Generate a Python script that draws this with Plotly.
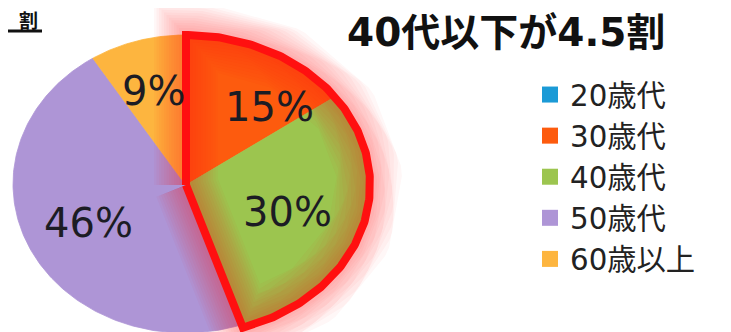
import numpy as np
import plotly.graph_objects as go

# ---------------- data ----------------
categories = ["20歳代", "30歳代", "40歳代", "50歳代", "60歳以上"]
shares = [0, 15, 30, 46, 9]            # percent of respondents
highlighted = ["30歳代", "40歳代"]       # slices pulled out and outlined
title_text = "40代以下が4.5割"
corner_text = "割"

# ---------------- style ----------------
colors = {
    "20歳代": "#1b9ad6",
    "30歳代": "#fd5b0e",
    "40歳代": "#9cc54f",
    "50歳代": "#ae95d6",
    "60歳以上": "#fdb53f",
}
W, H = 731, 332            # browser window
OFF = 8                    # default page (body) margin of the html page
FW, FH = W - OFF, H - OFF  # figure size so the page fits the window
CX, CY, RX, RY = 185, 184, 172, 149           # pie ellipse (window pixel units)
HL_DX, HL_DY, HL_SX, HL_SY = 1, 1, 1.07, 1.007  # enlarged, highlighted group
LABEL_R = {"30歳代": 0.69, "40歳代": 0.58, "50歳代": 0.62, "60歳以上": 0.65}
LABEL_TURN = {"30歳代": 14}
FONT = "DejaVu Sans, Noto Sans CJK JP, sans-serif"
TEXT_COLOR = "#1c1c24"


def px(sx):   # window x -> paper x
    return (sx - OFF) / FW


def py(sy):   # window y -> paper y
    return 1 - (sy - OFF) / FH


fig = go.Figure()


def geom(cat):
    if cat in highlighted:
        return CX + HL_DX, CY + HL_DY, RX * HL_SX, RY * HL_SY
    return CX, CY, RX, RY


def arc(cx, cy, rx, ry, a0, a1, n=160):
    t = np.radians(np.linspace(a0, a1, n))
    return cx + rx * np.sin(t), cy - ry * np.cos(t)


total = float(sum(shares))
starts = {}
acc = 0.0
for cat, v in zip(categories, shares):
    starts[cat] = (acc / total * 360.0, (acc + v) / total * 360.0)
    acc += v

# wedges: ordinary slices first, highlighted on top
order = [c for c in categories if c not in highlighted] + [c for c in categories if c in highlighted]
for cat in order:
    v = shares[categories.index(cat)]
    if v <= 0:
        continue
    a0, a1 = starts[cat]
    cx, cy, rx, ry = geom(cat)
    xs, ys = arc(cx, cy, rx, ry, a0, a1)
    fig.add_trace(go.Scatter(
        x=np.concatenate([[cx], xs, [cx]]), y=np.concatenate([[cy], ys, [cy]]),
        mode="lines", fill="toself", fillcolor=colors[cat],
        line=dict(color=colors[cat], width=0.8), hoverinfo="skip", showlegend=False))

# outline + soft glow around the highlighted group
h_vals = [starts[c] for c in highlighted]
g0, g1 = min(a for a, _ in h_vals), max(b for _, b in h_vals)
hcx, hcy, hrx, hry = geom(highlighted[0])
oxs, oys = arc(hcx, hcy, hrx, hry, g0, g1, 240)
ox = np.concatenate([[hcx], oxs, [hcx]])
oy = np.concatenate([[hcy], oys, [hcy]])
for w in range(64, 10, -5):
    fig.add_trace(go.Scatter(x=ox, y=oy, mode="lines",
                             line=dict(color="rgba(250,30,30,0.035)", width=w),
                             hoverinfo="skip", showlegend=False))
fig.add_trace(go.Scatter(x=ox, y=oy, mode="lines", line=dict(color="#ff1010", width=8),
                         hoverinfo="skip", showlegend=False))

# percent labels
for cat, v in zip(categories, shares):
    if v <= 0:
        continue
    a0, a1 = starts[cat]
    mid = np.radians((a0 + a1) / 2 + LABEL_TURN.get(cat, 0))
    cx, cy, rx, ry = geom(cat)
    r = LABEL_R.get(cat, 0.62)
    fig.add_annotation(x=cx + rx * r * np.sin(mid), y=cy - ry * r * np.cos(mid),
                       text=f"{v}%", showarrow=False, xanchor="center", yanchor="middle",
                       font=dict(family=FONT, size=40, color=TEXT_COLOR))

# legend entries
for cat in categories:
    fig.add_trace(go.Scatter(x=[None], y=[None], mode="markers", name=cat,
                             marker=dict(symbol="square", size=16, color=colors[cat])))

# title and heading fragment at the top-left corner
fig.add_annotation(xref="paper", yref="paper", x=px(506), y=py(32),
                   xanchor="center", yanchor="middle",
                   text=f"<b>{title_text}</b>", showarrow=False,
                   font=dict(family=FONT, size=39, color="#111111"))
fig.add_annotation(xref="paper", yref="paper", x=px(40), y=1,
                   xanchor="right", yanchor="top", text=f"<b>{corner_text}</b>",
                   showarrow=False, font=dict(family=FONT, size=19, color="#111111"))
fig.add_shape(type="line", x0=OFF, x1=42, y0=31, y1=31, line=dict(color="#111111", width=3))

fig.update_layout(
    width=FW, height=FH, margin=dict(l=0, r=0, t=0, b=0),
    paper_bgcolor="white", plot_bgcolor="white",
    xaxis=dict(range=[OFF, W], visible=False, fixedrange=True),
    yaxis=dict(range=[H, OFF], visible=False, fixedrange=True),
    legend=dict(x=px(530), xanchor="left", y=py(69), yanchor="top",
                font=dict(family=FONT, size=29.3, color="#222222"),
                bgcolor="rgba(0,0,0,0)", itemsizing="trace", tracegroupgap=0),
    showlegend=True,
)

fig.write_html("out.html")
